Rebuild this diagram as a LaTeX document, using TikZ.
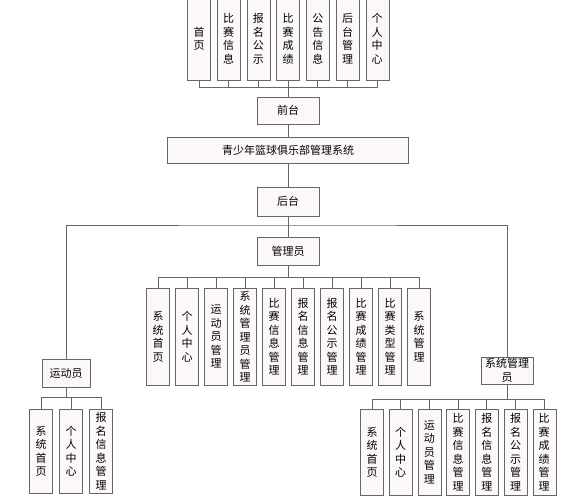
\documentclass[tikz,border=0pt]{standalone}
\usepackage{fontspec}
\setmainfont{Noto Sans CJK SC}
\usepackage{tikz}
\definecolor{boxline}{HTML}{666666}
\definecolor{boxfill}{HTML}{FCF8FA}

\begin{document}
\begin{tikzpicture}[x=1pt, y=-1pt,
  every node/.style={inner sep=1pt, font=\fontsize{11}{13.5}\selectfont},
  hbox/.style={draw=boxline, fill=boxfill, minimum height=27, align=center},
  vbox/.style={draw=boxline, fill=boxfill, minimum width=23, text width=12, align=center},
  link/.style={draw=boxline, line width=0.8pt}]
\useasboundingbox (0,0) rectangle (572,500);
\clip (0,0) rectangle (572,500);
\fill[white] (0,0) rectangle (572,500);

\foreach \i/\txt in {1/首\\页, 2/比\\赛\\信\\息, 3/报\\名\\公\\示, 4/比\\赛\\成\\绩, 5/公\\告\\信\\息, 6/后\\台\\管\\理, 7/个\\人\\中\\心}
  \node[vbox, minimum height=82, anchor=south] (t\i) at ({199+29.7*(\i-1)}, 80) {\txt};

\node[hbox, minimum width=62] (front) at (288, 110.5) {前台};
\node[hbox, minimum width=241, minimum height=26] (sys) at (288, 150) {青少年篮球俱乐部管理系统};
\node[hbox, minimum width=62, minimum height=29] (back) at (288, 201.5) {后台};
\node[hbox, minimum width=62, minimum height=28] (admin) at (288, 251) {管理员};

\foreach \i/\txt in {1/系\\统\\首\\页, 2/个\\人\\中\\心, 3/运\\动\\员\\管\\理, 4/系\\统\\管\\理\\员\\管\\理, 5/比\\赛\\信\\息\\管\\理, 6/报\\名\\信\\息\\管\\理, 7/报\\名\\公\\示\\管\\理, 8/比\\赛\\成\\绩\\管\\理, 9/比\\赛\\类\\型\\管\\理, 10/系\\统\\管\\理}
  \node[vbox, minimum height=97, anchor=north] (a\i) at ({158+29*(\i-1)}, 288) {\txt};

\node[hbox, minimum width=48, minimum height=28] (ath) at (66, 373) {运动员};
\node[hbox, minimum width=52, text width=48] (sadm) at (507, 370.5) {系统管理\\员};

\foreach \i/\txt in {1/系\\统\\首\\页, 2/个\\人\\中\\心, 3/报\\名\\信\\息\\管\\理}
  \node[vbox, minimum height=84, anchor=north] (p\i) at ({41+30*(\i-1)}, 409) {\txt};

\foreach \i/\txt in {1/系\\统\\首\\页, 2/个\\人\\中\\心, 3/运\\动\\员\\管\\理, 4/比\\赛\\信\\息\\管\\理, 5/报\\名\\信\\息\\管\\理, 6/报\\名\\公\\示\\管\\理, 7/比\\赛\\成\\绩\\管\\理}
  \node[vbox, minimum height=86, anchor=north] (s\i) at ({372+28.7*(\i-1)}, 409) {\txt};

\coordinate (tbus) at (288, 87);
\coordinate (bbus) at (288, 225);
\coordinate (abus) at (288, 277);
\coordinate (pbus) at (66, 397);
\coordinate (sbus) at (507, 399);

\foreach \i in {1,...,7}
  \draw[link] (t\i.south) |- (tbus);
\draw[link] (tbus) -- (front.north);
\draw[link] (front) -- (sys);
\draw[link] (sys) -- (back);
\draw[link] (back) -- (admin);
\draw[link] (ath.north) |- (bbus) -| (sadm.north);
\draw[link] (admin.south) -- (abus);
\foreach \i in {1,...,10}
  \draw[link] (abus) -| (a\i.north);
\draw[link] (ath.south) -- (pbus);
\foreach \i in {1,...,3}
  \draw[link] (pbus) -| (p\i.north);
\draw[link] (sadm.south) -- (sbus);
\foreach \i in {1,...,7}
  \draw[link] (sbus) -| (s\i.north);
\end{tikzpicture}
\end{document}
